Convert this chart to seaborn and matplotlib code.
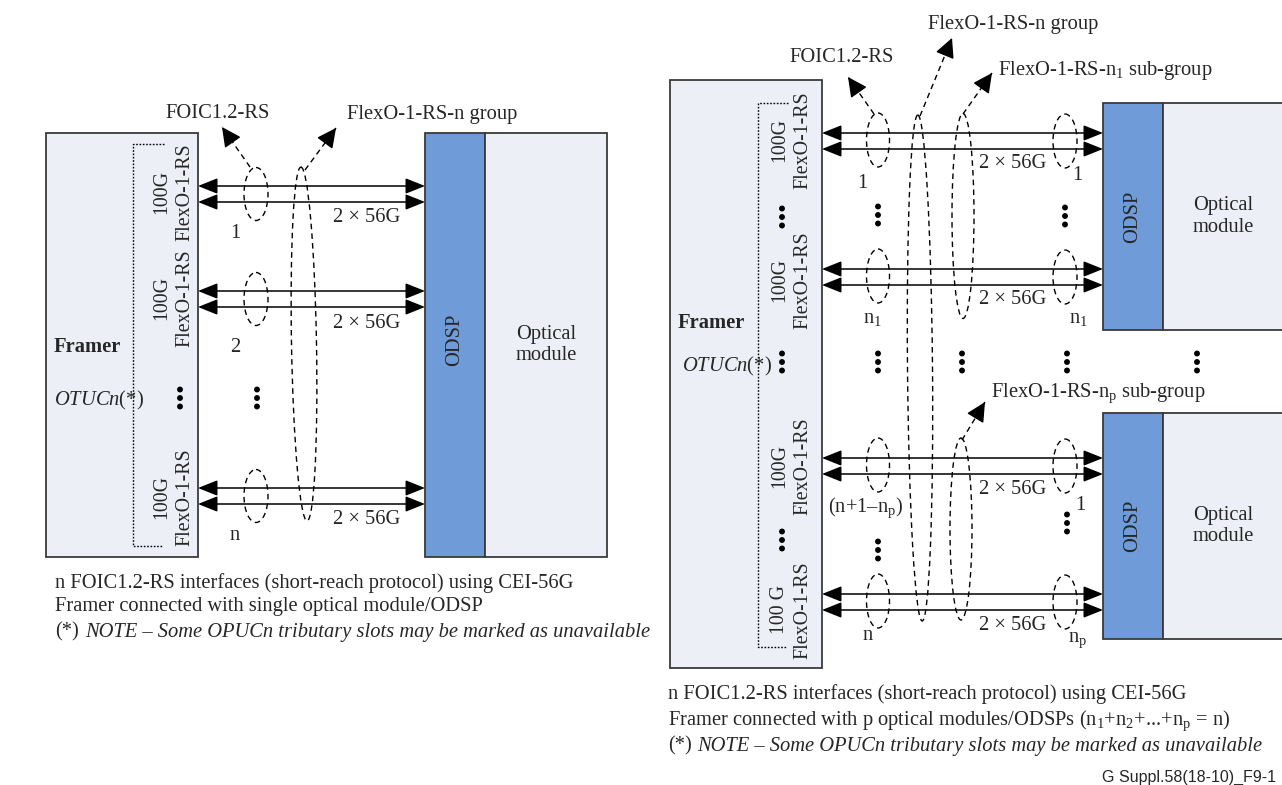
import matplotlib
matplotlib.use("Agg")
import matplotlib.pyplot as plt
import matplotlib.patches as mpatches
import numpy as np
import pandas as pd
import seaborn as sns

# ---- diagram data (pixel space, y grows downwards) ----
# left panel
left_framer = (46, 133, 152, 424)          # x, y, w, h
left_odsp = (425, 133, 60, 424)
left_optical = (485, 133, 122, 424)
left_lane_y = [194, 299, 496]
left_lane_num = ["1", "2", "n"]
left_num_y = [233, 348, 536]
left_label_y = [192, 298, 497]
left_label_txt = ["100G\nFlexO-1-RS", "100G\nFlexO-1-RS", "100G\nFlexO-1-RS"]

# right panel
right_framer = (670, 80, 152, 588)
right_odsp = [(1103, 103, 60, 227), (1103, 413, 60, 226)]
right_optical = [(1163, 103, 200, 227), (1163, 413, 200, 226)]
right_lane_y = [141, 277, 466, 602]
right_left_num = ["1", "n$_1$", "(n+1–n$_p$)", "n"]
right_left_num_xy = [(862, 183), (872, 319), (866, 508), (868, 636)]
right_right_num = ["1", "n$_1$", "1", "n$_p$"]
right_right_num_xy = [(1077, 175), (1078, 318), (1080, 505), (1078, 640)]
right_label_y = [140, 280, 466, 610]
right_label_txt = ["100G\nFlexO-1-RS", "100G\nFlexO-1-RS", "100G\nFlexO-1-RS", "100 G\nFlexO-1-RS"]

rate_txt = "2 × 56G"

# vertical ellipsis positions
dots_x = [180, 257, 782, 878, 1065, 782, 878, 962, 1067, 1197, 782, 878, 1067]
dots_y = [398, 398, 217, 215, 216, 362, 362, 362, 362, 362, 540, 550, 523]

captions_left = ["n FOIC1.2-RS interfaces (short-reach protocol) using CEI-56G",
                 "Framer connected with single optical module/ODSP"]
captions_right = ["n FOIC1.2-RS interfaces (short-reach protocol) using CEI-56G",
                  "Framer connected with p optical modules/ODSPs (n$_1$+n$_2$+...+n$_p$ = n)"]
note_txt = "NOTE – Some OPUCn tributary slots may be marked as unavailable"

LIGHT = "#ECEFF5"
BLUE = "#6F9BD8"
EDGE = "#3a3a3a"
FS = 14.8

sns.set_theme(style="white")
plt.rcParams["font.family"] = ["Liberation Serif", "DejaVu Serif"]
plt.rcParams["mathtext.fontset"] = "custom"
plt.rcParams["mathtext.rm"] = "Liberation Serif"
plt.rcParams["mathtext.it"] = "Liberation Serif:italic"
plt.rcParams["mathtext.default"] = "regular"

fig = plt.figure(figsize=(12.82, 7.85), dpi=100)
ax = fig.add_axes([0, 0, 1, 1])
ax.set_xlim(0, 1282)
ax.set_ylim(785, 0)
ax.axis("off")


def box(r, color, z=1):
    ax.add_patch(mpatches.Rectangle((r[0], r[1]), r[2], r[3], facecolor=color,
                                    edgecolor=EDGE, lw=1.3, zorder=z))


def lane_pair(x0, x1, yc):
    for dy in (-8, 8):
        ax.annotate("", xy=(x0, yc + dy), xytext=(x1, yc + dy),
                    arrowprops=dict(arrowstyle="<|-|>,head_length=0.6,head_width=0.24",
                                    mutation_scale=20, color="black", lw=1.1,
                                    shrinkA=0, shrinkB=0), zorder=4)


def dash_ell(xc, yc, w, h, angle=0):
    ax.add_patch(mpatches.Ellipse((xc, yc), w, h, angle=angle, fill=False,
                                  ls=(0, (4, 3)), lw=1.0, edgecolor="black", zorder=5))


def dash_arrow(x0, y0, x1, y1):
    ax.plot([x0, x1], [y0, y1], ls=(0, (4, 3)), lw=1.0, color="black", zorder=5)
    v = np.array([x1 - x0, y1 - y0], float)
    v /= np.hypot(*v)
    ax.annotate("", xy=(x1, y1), xytext=(x1 - v[0] * 6, y1 - v[1] * 6),
                arrowprops=dict(arrowstyle="-|>,head_length=0.6,head_width=0.3",
                                mutation_scale=20, color="black", lw=1.0,
                                shrinkA=0, shrinkB=0), zorder=5)


def dotted_bracket(x, xr0, xr1, y0, y1):
    ax.plot([xr0, x, x, xr1], [y0, y0, y1, y1], ls=(0, (1.2, 1.2)), lw=1.0,
            color="black", zorder=3)


# ---------------- left panel ----------------
box(left_framer, LIGHT)
box(left_odsp, BLUE)
box(left_optical, LIGHT)
dotted_bracket(133, 164, 162, 144, 546)

for yc, t in zip(left_label_y, left_label_txt):
    ax.text(173, yc, t, rotation=90, ha="center", va="center", fontsize=14.3,
            multialignment="center", linespacing=1.3, zorder=4)

ax.text(54, 347, "Framer", fontsize=FS, fontweight="bold", va="center")
ax.text(54, 400, r"$\it{OTUCn}$(*)", fontsize=FS, va="center")

for yc, num, ny in zip(left_lane_y, left_lane_num, left_num_y):
    lane_pair(198, 425, yc)
    dash_ell(256, yc, 24, 53)
    ax.text(367, yc + 24, rate_txt, fontsize=FS, ha="center", va="center")
    ax.text(235, ny, num, fontsize=FS, ha="center", va="center")

dash_ell(304, 344, 25, 354, angle=-1)
dash_arrow(250, 167, 222, 127)
dash_arrow(305, 170, 336, 128)
ax.text(218, 114, "FOIC1.2-RS", fontsize=FS, ha="center", va="center")
ax.text(432, 114, "FlexO-1-RS-n group", fontsize=FS, ha="center", va="center")

ax.text(455, 340, "ODSP", rotation=90, fontsize=FS, ha="center", va="center")
ax.text(546, 345, "Optical\nmodule", fontsize=FS, ha="center", va="center",
        linespacing=1.15)

for i, c in enumerate(captions_left):
    ax.text(55, 583 + 24 * i, c, fontsize=FS, va="center")
ax.text(55, 632, "(*)", fontsize=FS, va="center")
ax.text(85, 632, note_txt, fontsize=FS, va="center", style="italic")

# ---------------- right panel ----------------
box(right_framer, LIGHT)
for r in right_odsp:
    box(r, BLUE)
for r in right_optical:
    box(r, LIGHT)
dotted_bracket(758, 788, 786, 103, 647)

for yc, t in zip(right_label_y, right_label_txt):
    ax.text(791, yc, t, rotation=90, ha="center", va="center", fontsize=14.3,
            multialignment="center", linespacing=1.3, zorder=4)

ax.text(678, 323, "Framer", fontsize=FS, fontweight="bold", va="center")
ax.text(682, 366, r"$\it{OTUCn}$(*)", fontsize=FS, va="center")

for yc in right_lane_y:
    lane_pair(822, 1103, yc)
    dash_ell(878, yc - 1, 23, 54)
    dash_ell(1065, yc, 24, 54)
    ax.text(1013, yc + 23, rate_txt, fontsize=FS, ha="center", va="center")
for t, (x, y) in zip(right_left_num, right_left_num_xy):
    ax.text(x, y, t, fontsize=FS, ha="center", va="center")
for t, (x, y) in zip(right_right_num, right_right_num_xy):
    ax.text(x, y, t, fontsize=FS, ha="center", va="center")

dash_ell(920, 368, 25, 506, angle=-0.5)
dash_ell(963, 216, 22, 205)
dash_ell(961, 529, 22, 182)
dash_arrow(874, 114, 848, 77)
dash_arrow(920, 116, 952, 38)
dash_arrow(963, 114, 992, 73)
dash_arrow(962, 440, 985, 402)
ax.text(842, 57, "FOIC1.2-RS", fontsize=FS, ha="center", va="center")
ax.text(1013, 25, "FlexO-1-RS-n group", fontsize=FS, ha="center", va="center")
ax.text(998, 71, "FlexO-1-RS-n$_1$ sub-group", fontsize=FS, ha="left", va="center")
ax.text(991, 393, "FlexO-1-RS-n$_p$ sub-group", fontsize=FS, ha="left", va="center")

for r in right_odsp:
    ax.text(r[0] + r[2] / 2, r[1] + r[3] / 2, "ODSP", rotation=90, fontsize=FS,
            ha="center", va="center")
for r in right_optical:
    ax.text(1223, r[1] + r[3] / 2, "Optical\nmodule", fontsize=FS, ha="center",
            va="center", linespacing=1.15)

for i, c in enumerate(captions_right):
    ax.text(668, 694 + 27 * i, c, fontsize=FS, va="center")
ax.text(668, 746, "(*)", fontsize=FS, va="center")
ax.text(697, 746, note_txt, fontsize=FS, va="center", style="italic")
ax.text(1276, 777, "G Suppl.58(18-10)_F9-1", fontsize=11.5, va="center", ha="right",
        family=["Liberation Sans", "DejaVu Sans"])

# vertical ellipsis dots
dots = pd.DataFrame({"x": dots_x, "y": dots_y})
pts = pd.concat([dots.assign(y=dots["y"] + d) for d in (-8.5, 0, 8.5)])
sns.scatterplot(data=pts, x="x", y="y", ax=ax, s=18, color="black",
                edgecolor="none", zorder=6, legend=False)
ax.set_xlim(0, 1282)
ax.set_ylim(785, 0)
ax.axis("off")

fig.savefig("out.png", dpi=100)
